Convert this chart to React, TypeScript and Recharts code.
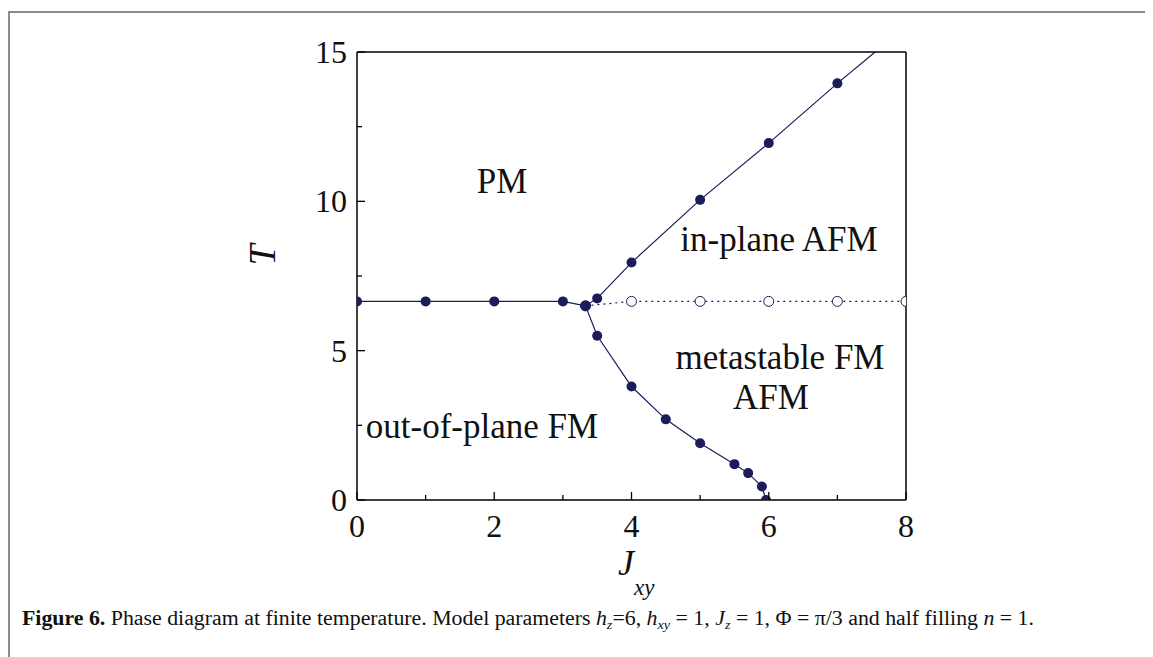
import React from "react";
import { ComposedChart, Line, XAxis, YAxis } from "recharts";

// out-of-plane FM / PM boundary (flat part)
const flatJ = [0, 1, 2, 3, 3.33];
const flatT = [6.65, 6.65, 6.65, 6.65, 6.5];

// in-plane AFM boundary, leaves the frame at the top
const upperJ = [3.33, 3.5, 4, 5, 6, 7, 7.55];
const upperT = [6.5, 6.75, 7.95, 10.05, 11.95, 13.95, 15];

// out-of-plane FM / metastable boundary
const lowerJ = [3.33, 3.5, 4, 4.5, 5, 5.5, 5.7, 5.9, 5.96];
const lowerT = [6.5, 5.5, 3.8, 2.7, 1.9, 1.2, 0.9, 0.45, 0];

// metastable line (open circles)
const metaJ = [3.33, 4, 5, 6, 7, 8];
const metaT = [6.5, 6.65, 6.65, 6.65, 6.65, 6.65];

const xTicks = [0, 1, 2, 3, 4, 5, 6, 7, 8];
const yTicks = [0, 2.5, 5, 7.5, 10, 12.5, 15];

const toRows = (js: number[], ts: number[]) => js.map((J, i) => ({ J, T: ts[i] }));

const NAVY = "#1c1b5b";
const SERIF = "'Liberation Serif', 'DejaVu Serif', serif";

const BottomTick = (props: any) => {
  const { x, y, payload } = props;
  const v = payload.value;
  const major = v % 2 === 0;
  return (
    <g>
      <line x1={x} y1={y} x2={x} y2={y - (major ? 8 : 5)} stroke="#000" strokeWidth={1.3} />
      {major && (
        <text x={x} y={y + 37} textAnchor="middle" fontFamily={SERIF} fontSize={32} fill="#111">
          {v}
        </text>
      )}
    </g>
  );
};

const TopTick = (props: any) => {
  const { x, y, payload } = props;
  const major = payload.value % 2 === 0;
  return <line x1={x} y1={y} x2={x} y2={y + (major ? 8 : 5)} stroke="#000" strokeWidth={1.3} />;
};

const LeftTick = (props: any) => {
  const { x, y, payload } = props;
  const v = payload.value;
  const major = v % 5 === 0;
  return (
    <g>
      <line x1={x} y1={y} x2={x + (major ? 8 : 5)} y2={y} stroke="#000" strokeWidth={1.3} />
      {major && (
        <text x={x - 10} y={y + 11} textAnchor="end" fontFamily={SERIF} fontSize={32} fill="#111">
          {v}
        </text>
      )}
    </g>
  );
};

const RightTick = (props: any) => {
  const { x, y, payload } = props;
  const major = payload.value % 5 === 0;
  return <line x1={x} y1={y} x2={x - (major ? 8 : 5)} y2={y} stroke="#000" strokeWidth={1.3} />;
};

const upperDot = (props: any) => {
  const { cx, cy, index, value } = props;
  if (value >= 15) return <g key={"u" + index} />;
  return <circle key={"u" + index} cx={cx} cy={cy} r={5} fill={NAVY} />;
};

const label = (text: string, x: number, y: number) => (
  <text x={x} y={y} textAnchor="middle" fontFamily={SERIF} fontSize={35} fill="#111">
    {text}
  </text>
);

export default function App() {
  return (
    <div style={{ position: "relative", width: 1145, height: 649, background: "#fff" }}>
      <div
        style={{
          position: "absolute",
          left: 0,
          top: 3,
          right: 0,
          bottom: -20,
          borderTop: "2px solid #8c8c8c",
          borderLeft: "2px solid #8c8c8c",
        }}
      />
      <ComposedChart
        width={1145}
        height={649}
        margin={{ top: 34, right: 237, bottom: 107, left: 289 }}
        style={{ position: "absolute", left: 0, top: 0 }}
      >
        <XAxis
          dataKey="J"
          type="number"
          domain={[0, 8]}
          ticks={xTicks}
          interval={0}
          allowDataOverflow
          height={50}
          tickSize={0}
          tickMargin={0}
          tickLine={false}
          tick={<BottomTick />}
          axisLine={{ stroke: "#000", strokeWidth: 1.5 }}
        />
        <XAxis
          xAxisId="top"
          orientation="top"
          dataKey="J"
          type="number"
          domain={[0, 8]}
          ticks={xTicks}
          interval={0}
          height={10}
          tickSize={0}
          tickMargin={0}
          tickLine={false}
          tick={<TopTick />}
          axisLine={{ stroke: "#000", strokeWidth: 1.5 }}
        />
        <YAxis
          dataKey="T"
          type="number"
          domain={[0, 15]}
          ticks={yTicks}
          interval={0}
          allowDataOverflow
          width={60}
          tickSize={0}
          tickMargin={0}
          tickLine={false}
          tick={<LeftTick />}
          axisLine={{ stroke: "#000", strokeWidth: 1.5 }}
        />
        <YAxis
          yAxisId="right"
          orientation="right"
          dataKey="T"
          type="number"
          domain={[0, 15]}
          ticks={yTicks}
          interval={0}
          width={10}
          tickSize={0}
          tickMargin={0}
          tickLine={false}
          tick={<RightTick />}
          axisLine={{ stroke: "#000", strokeWidth: 1.5 }}
        />
        <Line
          data={toRows(metaJ, metaT)}
          dataKey="T"
          type="linear"
          stroke={NAVY}
          strokeWidth={1.2}
          strokeDasharray="2 4"
          dot={{ r: 5, fill: "#fff", stroke: NAVY, strokeWidth: 1, strokeDasharray: "" }}
          isAnimationActive={false}
        />
        <Line
          data={toRows(flatJ, flatT)}
          dataKey="T"
          type="linear"
          stroke={NAVY}
          strokeWidth={1.2}
          dot={{ r: 5, fill: NAVY, stroke: NAVY, strokeWidth: 0 }}
          isAnimationActive={false}
        />
        <Line
          data={toRows(upperJ, upperT)}
          dataKey="T"
          type="linear"
          stroke={NAVY}
          strokeWidth={1.2}
          dot={upperDot}
          isAnimationActive={false}
        />
        <Line
          data={toRows(lowerJ, lowerT)}
          dataKey="T"
          type="linear"
          stroke={NAVY}
          strokeWidth={1.2}
          dot={{ r: 5, fill: NAVY, stroke: NAVY, strokeWidth: 0 }}
          isAnimationActive={false}
        />
      </ComposedChart>
      <svg
        width={1145}
        height={649}
        style={{ position: "absolute", left: 0, top: 0, pointerEvents: "none" }}
      >
        {label("PM", 494, 185)}
        {label("in-plane AFM", 771, 243)}
        {label("metastable FM", 772, 361)}
        {label("AFM", 763, 401)}
        {label("out-of-plane FM", 474, 430)}
        <text
          x={0}
          y={0}
          transform="translate(267 247) rotate(-90)"
          textAnchor="middle"
          fontFamily={SERIF}
          fontStyle="italic"
          fontSize={38}
          fill="#111"
        >
          T
        </text>
        <text x={610} y={567} fontFamily={SERIF} fontStyle="italic" fontSize={36} fill="#111">
          J
        </text>
        <text x={626} y={587} fontFamily={SERIF} fontStyle="italic" fontSize={23} fill="#111">
          xy
        </text>
        <text
          x={14}
          y={617}
          fontFamily={SERIF}
          fontSize={20}
          fill="#111"
          textLength={1012}
          lengthAdjust="spacingAndGlyphs"
        >
          <tspan fontWeight="bold">Figure 6.</tspan>
          <tspan> Phase diagram at finite temperature. Model parameters </tspan>
          <tspan fontStyle="italic">h</tspan>
          <tspan fontSize={13} dy={4} fontStyle="italic">z</tspan>
          <tspan dy={-4}>=6, </tspan>
          <tspan fontStyle="italic">h</tspan>
          <tspan fontSize={13} dy={4} fontStyle="italic">xy</tspan>
          <tspan dy={-4}> = 1, </tspan>
          <tspan fontStyle="italic">J</tspan>
          <tspan fontSize={13} dy={4} fontStyle="italic">z</tspan>
          <tspan dy={-4}> = 1, Φ = π/3 and half filling </tspan>
          <tspan fontStyle="italic">n</tspan>
          <tspan> = 1.</tspan>
        </text>
      </svg>
    </div>
  );
}
